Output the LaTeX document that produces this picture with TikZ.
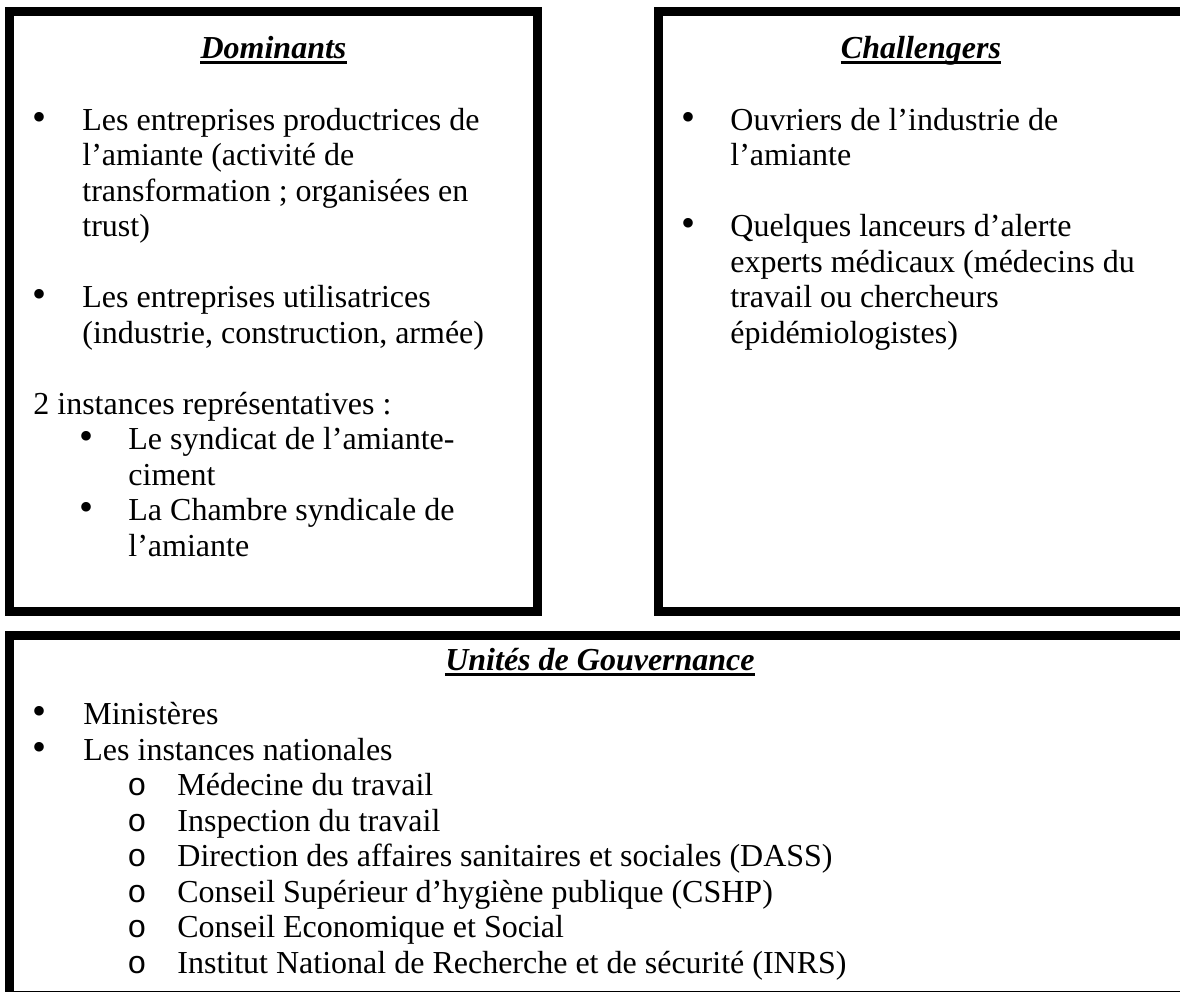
\documentclass[tikz,border=0pt]{standalone}
\usepackage{fontspec}
\setmainfont{Liberation Serif}
\newfontfamily\monofont{Liberation Mono}
\newcommand{\corps}{\fontsize{16}{17.75}\selectfont}
\newcommand{\lignes}[1]{\begin{tabular}[t]{@{}l@{}}#1\end{tabular}}

\tikzset{
  cadre/.style={line width=4.5pt},
  titre/.style={inner sep=0pt, anchor=base, font=\corps\bfseries\itshape},
  souligne/.style={line width=1.5pt},
  puce/.style={inner sep=0pt, anchor=base, text height=9pt, text depth=0pt, font=\fontsize{20}{20}\selectfont},
  rond/.style={inner sep=0pt, anchor=base, font=\corps\monofont},
  texte/.style={inner sep=0pt, anchor=base west, font=\corps},
}

\begin{document}
\begin{tikzpicture}[x=0.5pt, y=-0.5pt]
	\useasboundingbox (0,0) rectangle (1180,992);

	% Dominants
	\draw[cadre] (9.5,11) rectangle (537.5,611);
	\node[titre] (tdom) at (273.5,58) {Dominants};
	\draw[souligne] ([yshift=-2.2pt]tdom.base west) -- ([yshift=-2.2pt]tdom.base east);
	\node[puce] (pdom1) at (40,130) {•};
	\node[texte] (dom1) at (82,130) {\lignes{Les entreprises productrices de\\l’amiante (activité de\\transformation ; organisées en\\trust)}};
	\node[puce] (pdom2) at (40,307.5) {•};
	\node[texte] (dom2) at (82,307.5) {\lignes{Les entreprises utilisatrices\\(industrie, construction, armée)}};
	\node[texte] (dom3) at (33,414) {2 instances représentatives :};
	\node[puce] (pdom4) at (87,449.5) {•};
	\node[texte] (dom4) at (128,449.5) {\lignes{Le syndicat de l’amiante-\\ciment}};
	\node[puce] (pdom5) at (87,520.5) {•};
	\node[texte] (dom5) at (128,520.5) {\lignes{La Chambre syndicale de\\l’amiante}};

	% Challengers
	\draw[cadre] (658.5,11) rectangle (1200,611);
	\node[titre] (tchal) at (921,58) {Challengers};
	\draw[souligne] ([yshift=-2.2pt]tchal.base west) -- ([yshift=-2.2pt]tchal.base east);
	\node[puce] (pchal1) at (688,130) {•};
	\node[texte] (chal1) at (730,130) {\lignes{Ouvriers de l’industrie de\\l’amiante}};
	\node[puce] (pchal2) at (688,236.5) {•};
	\node[texte] (chal2) at (730,236.5) {\lignes{Quelques lanceurs d’alerte\\experts médicaux (médecins du\\travail ou chercheurs\\épidémiologistes)}};

	% Unites de gouvernance
	\draw[cadre] (9.5,635) rectangle (1200,995);
	\node[titre] (tgouv) at (600,670) {Unités de Gouvernance};
	\draw[souligne] ([yshift=-2.2pt]tgouv.base west) -- ([yshift=-2.2pt]tgouv.base east);
	\node[puce] (pgouv1) at (40,724.5) {•};
	\node[texte] (gouv1) at (83,724.5) {Ministères};
	\node[puce] (pgouv2) at (40,760) {•};
	\node[texte] (gouv2) at (83,760) {Les instances nationales};
	\node[texte] (inst) at (177,795.5) {\lignes{Médecine du travail\\Inspection du travail\\Direction des affaires sanitaires et sociales (DASS)\\Conseil Supérieur d’hygiène publique (CSHP)\\Conseil Economique et Social\\Institut National de Recherche et de sécurité (INRS)}};
	\foreach \i in {0,...,5}
		\node[rond] (o\i) at (137,{795.5+35.5*\i}) {o};
\end{tikzpicture}
\end{document}
